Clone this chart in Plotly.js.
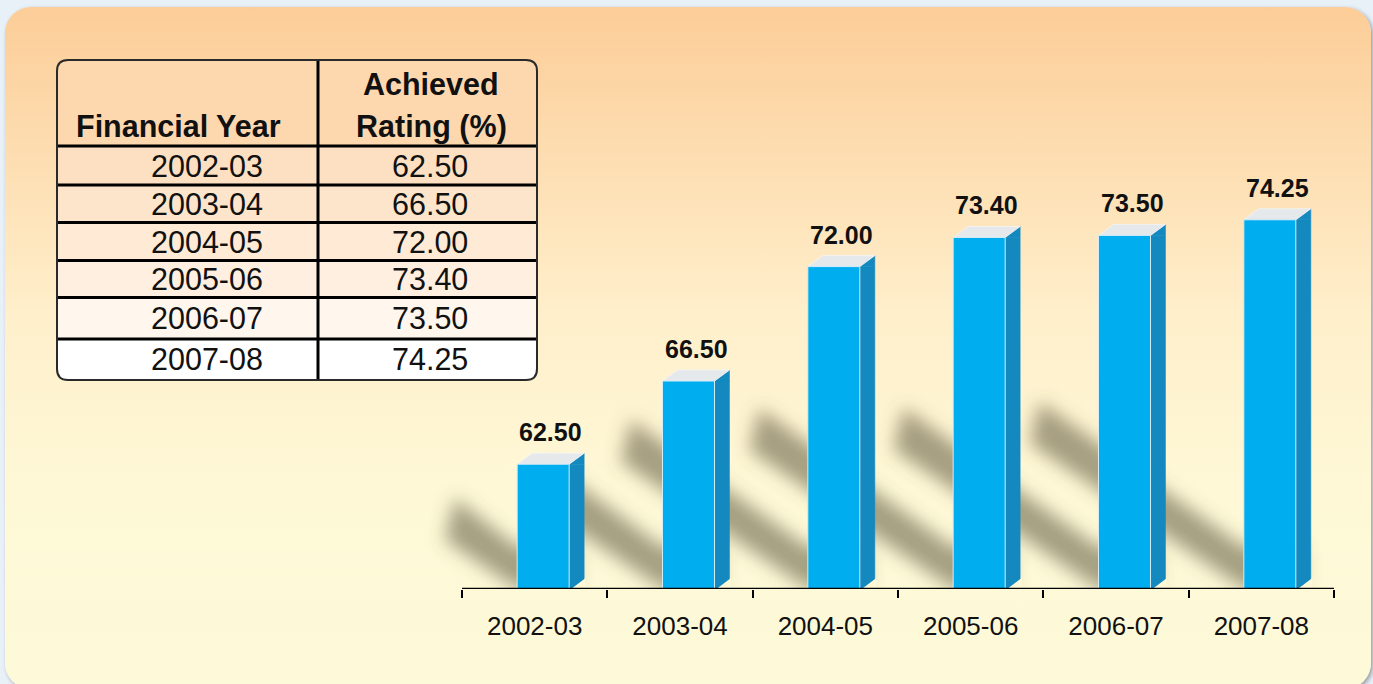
<!DOCTYPE html>
<html>
<head>
<meta charset="utf-8">
<script src="https://cdn.plot.ly/plotly-3.0.1.min.js"></script>
<style>
  html, body { margin: 0; padding: 0; width: 1373px; height: 684px; overflow: hidden; background: #e8f0f8; }
  #panel {
    position: absolute; left: 5px; top: 7px; width: 1366px; height: 682px;
    border-radius: 26px;
    background: linear-gradient(to bottom, #fccd98 0%, #fddcaf 20%, #ffefcb 45%, #fef8d6 70%, #fdfad9 100%);
    box-shadow: 2px 2px 4px rgba(60,60,60,0.45);
  }
  #chart { position: absolute; left: 0; top: 0; width: 1373px; height: 684px; }
</style>
</head>
<body>
<div id="panel"></div>
<div id="chart"></div>
<script>
// ---------------- data ----------------
const categories = ['2002-03', '2003-04', '2004-05', '2005-06', '2006-07', '2007-08'];
const ratings = [62.50, 66.50, 72.00, 73.40, 73.50, 74.25];
const ratingLabels = ['62.50', '66.50', '72.00', '73.40', '73.50', '74.25'];
const headerYear = 'Financial Year';
const headerRatingLines = ['Achieved', 'Rating (%)'];

// ---------------- layout geometry ----------------
const W = 1373, H = 684;
const axisLeftPx = 462, axisRightPx = 1334;
const catPx = (axisRightPx - axisLeftPx) / categories.length;
const plotLeftPx = 370, plotRightPx = 1342;
const xRange = [-0.5 - (axisLeftPx - plotLeftPx) / catPx, categories.length - 0.5 + (plotRightPx - axisRightPx) / catPx];
const basePx = 589;
const yMin = 56.5, pxPerUnit = 20.8;
const yMax = yMin + basePx / pxPerUnit;

const frontColor = '#00adee', sideColor = '#1389bf', topColor = '#e5e9ec';
const frontW = 52, frontOff = -17.5, depthX = 15, depthY = 11;
const xl = frontOff, xr = frontOff + frontW;
const font = '"Liberation Sans", Arial, sans-serif';

const px = x => x / W;
const py = y => 1 - y / H;

// ---------------- traces ----------------
const bars = {
  type: 'bar',
  x: categories,
  y: ratings,
  width: frontW / catPx,
  offset: frontOff / catPx,
  marker: { color: frontColor, line: { color: '#d4ecf7', width: 1 } },
  hoverinfo: 'skip',
  showlegend: false
};

// ---------------- shapes ----------------
const shapes = [];
const shadowIdx = new Set();
// shadows
ratings.forEach((v, i) => {
  const hPx = (v - yMin) * pxPerUnit;
  const dx = 0.58 * hPx, dy = 0.68 * dx, th = 42;
  shadowIdx.add(shapes.length);
  shapes.push({
    type: 'path', layer: 'below', xref: 'x', yref: 'y',
    xsizemode: 'pixel', ysizemode: 'pixel', xanchor: i, yanchor: yMin,
    path: `M 40,0 L ${xl},0 L ${xl - dx},${dy} L ${xl - dx + 10},${dy + th} L ${xl},${th} L 40,${th} Z`,
    fillcolor: 'rgba(92,88,58,0.55)', line: { width: 0 }
  });
});
// side faces + top faces
ratings.forEach((v, i) => {
  shapes.push({
    type: 'path', layer: 'below', xref: 'x', yref: 'y',
    xsizemode: 'pixel', xanchor: i,
    path: `M ${xr},${yMin} L ${xr + depthX},${yMin} L ${xr + depthX},${v} L ${xr},${v} Z`,
    fillcolor: sideColor, line: { color: sideColor, width: 0.5 }
  });
  shapes.push({
    type: 'path', layer: 'below', xref: 'x', yref: 'y',
    xsizemode: 'pixel', ysizemode: 'pixel', xanchor: i, yanchor: v,
    path: `M ${xr},0 L ${xr + depthX},${depthY} L ${xr + depthX},0 Z`,
    fillcolor: sideColor, line: { color: sideColor, width: 0.5 }
  });
  shapes.push({
    type: 'path', layer: 'below', xref: 'x', yref: 'y',
    xsizemode: 'pixel', ysizemode: 'pixel', xanchor: i, yanchor: v,
    path: `M ${xl},0 L ${xr},0 L ${xr + depthX},${depthY} L ${xl + depthX},${depthY} Z`,
    fillcolor: topColor, line: { color: '#f3f5f6', width: 0.8 }
  });
  shapes.push({
    type: 'path', layer: 'below', xref: 'x', yref: 'y',
    xsizemode: 'pixel', ysizemode: 'pixel', xanchor: i, yanchor: yMin,
    path: `M ${xr + 0.6},-1 L ${xr + depthX + 1.5},-1 L ${xr + depthX + 1.5},${depthY} Z`,
    fillcolor: '#fdf9d7', line: { width: 0 }
  });
});
// x axis line
shapes.push({
  type: 'line', layer: 'above', xref: 'x', yref: 'y',
  x0: -0.5, x1: categories.length - 0.5, y0: yMin, y1: yMin,
  line: { color: '#000', width: 2.5 }
});

// ---------------- table (built from the data arrays) ----------------
const tL = 57, tR = 537, tT = 60, tB = 380, tDiv = 318, tHead = 146;
const rowLines = [185, 222.5, 260.5, 297.5, 339];
const rowBounds = [tHead, ...rowLines, tB];
const rowFills = ['#fde0c1', '#fde5cb', '#feead5', '#ffefe0', '#fff6ed', '#ffffff'];
const headFill = '#fdd8af';
const R = 11;

function rrect(x0, y0, x1, y1, rt, rb) {
  return `M ${px(x0 + rt)},${py(y0)} L ${px(x1 - rt)},${py(y0)} Q ${px(x1)},${py(y0)} ${px(x1)},${py(y0 + rt)} ` +
         `L ${px(x1)},${py(y1 - rb)} Q ${px(x1)},${py(y1)} ${px(x1 - rb)},${py(y1)} ` +
         `L ${px(x0 + rb)},${py(y1)} Q ${px(x0)},${py(y1)} ${px(x0)},${py(y1 - rb)} ` +
         `L ${px(x0)},${py(y0 + rt)} Q ${px(x0)},${py(y0)} ${px(x0 + rt)},${py(y0)} Z`;
}
shapes.push({ type: 'path', layer: 'below', xref: 'paper', yref: 'paper',
  path: rrect(tL, tT, tR, tHead, R, 0), fillcolor: headFill, line: { width: 0 } });
categories.forEach((c, r) => {
  const last = r === categories.length - 1;
  shapes.push({ type: 'path', layer: 'below', xref: 'paper', yref: 'paper',
    path: rrect(tL, rowBounds[r], tR, rowBounds[r + 1], 0, last ? R : 0),
    fillcolor: rowFills[r], line: { width: 0 } });
});
[tHead, ...rowLines].forEach(y => {
  shapes.push({ type: 'line', layer: 'below', xref: 'paper', yref: 'paper',
    x0: px(tL), x1: px(tR), y0: py(y), y1: py(y), line: { color: '#000', width: 3 } });
});
shapes.push({ type: 'line', layer: 'below', xref: 'paper', yref: 'paper',
  x0: px(tDiv), x1: px(tDiv), y0: py(tT), y1: py(tB), line: { color: '#000', width: 3 } });
shapes.push({ type: 'path', layer: 'below', xref: 'paper', yref: 'paper',
  path: rrect(tL, tT, tR, tB, R, R), fillcolor: 'rgba(0,0,0,0)', line: { color: '#2a2a2a', width: 2 } });

// ---------------- annotations ----------------
const annotations = [];
ratings.forEach((v, i) => {
  annotations.push({
    x: i, y: v, xref: 'x', yref: 'y', text: ratingLabels[i], showarrow: false,
    xanchor: 'center', yanchor: 'middle', xshift: 16, yshift: 32,
    font: { family: font, size: 25, color: '#111', weight: 'bold' }
  });
});
const col1X = 207, col2X = 430;
categories.forEach((c, r) => {
  const yc = (rowBounds[r] + rowBounds[r + 1]) / 2;
  annotations.push({ x: px(col1X), y: py(yc), xref: 'paper', yref: 'paper', text: c, showarrow: false,
    xanchor: 'center', yanchor: 'middle', font: { family: font, size: 30.5, color: '#111' } });
  annotations.push({ x: px(col2X), y: py(yc), xref: 'paper', yref: 'paper', text: ratingLabels[r], showarrow: false,
    xanchor: 'center', yanchor: 'middle', font: { family: font, size: 30.5, color: '#111' } });
});
annotations.push({ x: px(179), y: py(126), xref: 'paper', yref: 'paper', text: headerYear, showarrow: false,
  xanchor: 'center', yanchor: 'middle', font: { family: font, size: 30.5, color: '#111', weight: 'bold' } });
annotations.push({ x: px(431), y: py(84), xref: 'paper', yref: 'paper', text: headerRatingLines[0], showarrow: false,
  xanchor: 'center', yanchor: 'middle', font: { family: font, size: 30.5, color: '#111', weight: 'bold' } });
annotations.push({ x: px(431), y: py(126), xref: 'paper', yref: 'paper', text: headerRatingLines[1], showarrow: false,
  xanchor: 'center', yanchor: 'middle', font: { family: font, size: 30.5, color: '#111', weight: 'bold' } });

const layout = {
  width: W, height: H,
  margin: { l: 0, r: 0, t: 0, b: 0, pad: 0 },
  paper_bgcolor: 'rgba(0,0,0,0)', plot_bgcolor: 'rgba(0,0,0,0)',
  showlegend: false,
  bargap: 0,
  xaxis: {
    type: 'category', domain: [px(plotLeftPx), px(plotRightPx)], range: xRange,
    showline: false, showgrid: false, zeroline: false,
    ticks: 'outside', tickson: 'boundaries', ticklen: 8, tickwidth: 2, tickcolor: '#000',
    tickfont: { family: font, size: 26, color: '#111' }, ticklabelstandoff: 19,
    fixedrange: true
  },
  yaxis: {
    domain: [(H - basePx) / H, 1], range: [yMin, yMax],
    visible: false, showgrid: false, zeroline: false, fixedrange: true
  },
  shapes: shapes,
  annotations: annotations
};

Plotly.newPlot('chart', [bars], layout, { staticPlot: true, displayModeBar: false }).then(gd => {
  const ns = 'http://www.w3.org/2000/svg';
  const svg = gd.querySelector('svg.main-svg');
  let defs = svg.querySelector('defs');
  if (!defs) { defs = document.createElementNS(ns, 'defs'); svg.insertBefore(defs, svg.firstChild); }
  const f = document.createElementNS(ns, 'filter');
  f.setAttribute('id', 'shadowBlur');
  f.setAttribute('x', '-50%'); f.setAttribute('y', '-50%');
  f.setAttribute('width', '200%'); f.setAttribute('height', '200%');
  const b = document.createElementNS(ns, 'feGaussianBlur');
  b.setAttribute('stdDeviation', '9');
  f.appendChild(b);
  defs.appendChild(f);
  gd.querySelectorAll('path[data-index]').forEach(p => {
    const idx = +p.getAttribute('data-index');
    if (shadowIdx.has(idx)) p.setAttribute('filter', 'url(#shadowBlur)');
  });
});
</script>
</body>
</html>
